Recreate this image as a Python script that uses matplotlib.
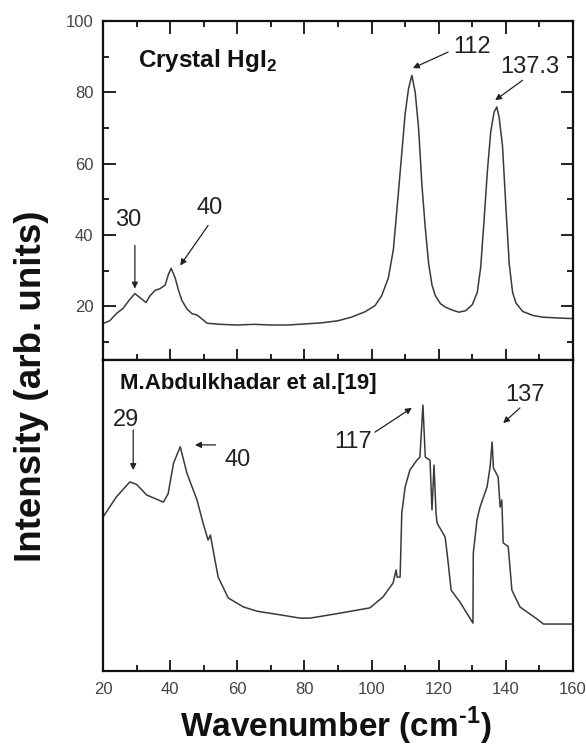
import matplotlib
matplotlib.use("Agg")
import matplotlib.pyplot as plt
from matplotlib.ticker import MultipleLocator, NullLocator

plt.rcParams['font.family'] = ['Liberation Sans', 'DejaVu Sans']
plt.rcParams['mathtext.fontset'] = 'custom'
plt.rcParams['mathtext.rm'] = 'Liberation Sans:bold'
plt.rcParams['mathtext.bf'] = 'Liberation Sans:bold'

# ---- data: Crystal HgI2 (top) ----
top_x = [20, 22, 24, 26, 28, 29.5, 31, 32.8, 34, 35.5, 37, 38.5, 39.5, 40.3, 41.5,
         42.5, 43.5, 45, 46.5, 48, 49.5, 51, 55, 60, 65, 70, 75, 80, 85, 90, 94, 98,
         101, 103, 105, 106.5, 108, 109, 110, 111, 112, 113, 114, 115, 116, 117, 118,
         119, 120.5, 122, 124, 126, 128, 130, 131.5, 132.5, 133.5, 134.5, 135.5, 136.5,
         137.3, 138, 139, 140, 141, 142, 143, 145, 148, 151, 155, 160]
top_y = [15.2, 16, 18, 19.5, 22, 23.6, 22.5, 21.1, 23, 24.5, 25, 26, 29, 30.7, 28,
         24.5, 21.7, 19.3, 18, 17.6, 16.5, 15.3, 15, 14.8, 15, 14.8, 14.8, 15.1, 15.4, 16, 17, 18.5,
         20.2, 23, 28, 36, 52, 63, 74, 81, 84.8, 80, 70, 54, 42, 32, 26,
         23, 20.8, 19.8, 19, 18.4, 18.8, 20.5, 24, 31, 44, 58, 69, 74.5,
         75.9, 73, 65, 48, 32, 24, 21, 18.6, 17.5, 17, 16.8, 16.6]

# ---- data: M. Abdulkhadar et al. (bottom, arb. units) ----
bot_x = [20, 24, 28, 30, 33, 38, 39.4, 41, 43, 45, 48, 49.8, 51.3, 52, 52.8, 54.3,
         57.3, 61.8, 66, 72, 78.7, 81.7, 90.6, 99.5, 103.4, 106.4, 107.3, 107.6, 108.5,
         109, 110, 111.4, 113.5, 114.4, 115.3, 116, 117.4, 118, 118.6, 119.2, 119.5,
         121.9, 122.5, 123.7, 126.3, 130.2, 130.3, 131.4, 132.3, 134.4, 135.3, 135.9,
         136.3, 137.7, 138.3, 138.8, 139.2, 140.7, 141.8, 144.2, 149.3, 151.2, 160]
bot_y = [49.5, 56, 60.8, 60, 56.6, 54.3, 57, 66.8, 72.1, 63.6, 55, 47.6, 42.1, 43.7, 38.9, 30.2,
         23.5, 20.6, 19.2, 18.2, 17, 17, 18.6, 20.3, 23.8, 28.3, 32.5, 30.2, 30.2,
         50.8, 59.2, 64.6, 67.8, 68.8, 85.5, 68.8, 67.8, 51.8, 66.2, 50.8, 47.6,
         43.1, 37.9, 26, 22.2, 15.4, 37.9, 48.6, 52.7, 59.2, 65.6, 73.6,
         65.3, 62.4, 52.7, 55, 41.2, 40, 26, 20.6, 16.7, 15.1, 15.1]

x_ticks = [20, 40, 60, 80, 100, 120, 140, 160]
top_yticks = [20, 40, 60, 80, 100]

W, H = 586, 751
fig = plt.figure(figsize=(W / 100, H / 100), dpi=100)

L, R = 103 / W, 573 / W
y_top, y_mid, y_bot = 1 - 21 / H, 1 - 360 / H, 1 - 671 / H

ax1 = fig.add_axes([L, y_mid, R - L, y_top - y_mid])
ax2 = fig.add_axes([L, y_bot, R - L, y_mid - y_bot])

line_c = '#3a3a3a'
ax1.plot(top_x, top_y, color=line_c, lw=1.1)
ax2.plot(bot_x, bot_y, color=line_c, lw=1.1)

for ax in (ax1, ax2):
    ax.set_xlim(20, 160)
    for s in ax.spines.values():
        s.set_linewidth(1.6)
        s.set_color('#111111')

ax1.set_ylim(5, 100)
ax2.set_ylim(0, 100)

tick_c = '#444444'
# top panel
ax1.set_xticks(x_ticks)
ax1.xaxis.set_minor_locator(MultipleLocator(10))
ax1.xaxis.set_ticks_position('top')
ax1.tick_params(axis='x', which='both', direction='in', top=True, bottom=False,
                labeltop=False, labelbottom=False, width=1.3, color='#111111')
ax1.tick_params(axis='x', which='major', length=9)
ax1.tick_params(axis='x', which='minor', length=4.5)
ax1.set_yticks(top_yticks)
ax1.yaxis.set_minor_locator(MultipleLocator(10))
ax1.tick_params(axis='y', which='both', direction='in', left=True, right=True,
                width=1.3, color='#111111', labelsize=12, labelcolor=tick_c, pad=7)
ax1.tick_params(axis='y', which='major', length=9)
ax1.tick_params(axis='y', which='minor', length=4.5)

sec = ax1.secondary_xaxis('bottom')
sec.set_xticks(x_ticks)
sec.xaxis.set_minor_locator(MultipleLocator(10))
sec.tick_params(axis='x', which='both', direction='inout', labelbottom=False,
                width=1.3, color='#111111')
sec.tick_params(axis='x', which='major', length=16)
sec.tick_params(axis='x', which='minor', length=8)
sec.spines['bottom'].set_visible(False)

# bottom panel
ax2.set_xticks(x_ticks)
ax2.xaxis.set_minor_locator(MultipleLocator(10))
ax2.tick_params(axis='x', which='both', direction='in', top=False, bottom=True,
                width=1.3, color='#111111', labelsize=12, labelcolor=tick_c, pad=8)
ax2.tick_params(axis='x', which='major', length=8)
ax2.tick_params(axis='x', which='minor', length=4)
ax2.yaxis.set_major_locator(NullLocator())
ax2.yaxis.set_minor_locator(NullLocator())

# annotations
arr = dict(arrowstyle='-|>', color='#222222', lw=0.9, mutation_scale=9, shrinkA=0, shrinkB=0)
fs_num = 17
ax1.text(30.4, 88.8, r'Crystal HgI$_\mathbf{2}$', fontsize=17.5, fontweight='bold',
         ha='left', va='center', color='#111111')
ax1.text(27.5, 44.1, '30', fontsize=fs_num, ha='center', va='center', color='#222222')
ax1.annotate('', xy=(29.5, 25), xytext=(29.5, 37.1), arrowprops=arr)
ax1.text(51.9, 47.5, '40', fontsize=fs_num, ha='center', va='center', color='#222222')
ax1.annotate('', xy=(43, 31.5), xytext=(51.3, 42.7), arrowprops=arr)
ax1.text(130, 92.7, '112', fontsize=fs_num, ha='center', va='center', color='#222222')
ax1.annotate('', xy=(112.3, 86.8), xytext=(122.8, 91.3), arrowprops=arr)
ax1.text(147.2, 87.1, '137.3', fontsize=fs_num, ha='center', va='center', color='#222222')
ax1.annotate('', xy=(136.8, 77.8), xytext=(145, 83.4), arrowprops=arr)

ax2.text(25, 92.6, 'M.Abdulkhadar et al.[19]', fontsize=16, fontweight='bold',
         ha='left', va='center', color='#111111')
ax2.text(27, 80.7, '29', fontsize=fs_num, ha='center', va='center', color='#222222')
ax2.annotate('', xy=(29, 64.6), xytext=(29, 77.5), arrowprops=arr)
ax2.text(60, 67.8, '40', fontsize=fs_num, ha='center', va='center', color='#222222')
ax2.annotate('', xy=(47.4, 72.7), xytext=(53.5, 72.7), arrowprops=arr)
ax2.text(94.5, 73.6, '117', fontsize=fs_num, ha='center', va='center', color='#222222')
ax2.annotate('', xy=(112, 84.6), xytext=(101, 76.8), arrowprops=arr)
ax2.text(145.7, 88.7, '137', fontsize=fs_num, ha='center', va='center', color='#222222')
ax2.annotate('', xy=(139.2, 79.7), xytext=(144.2, 84.6), arrowprops=arr)

fig.text(336 / W, 1 - 726 / H, r'Wavenumber (cm$^{\text{-1}}$)', fontsize=24,
         fontweight='bold', ha='center', va='center', color='#111111')
fig.text(32 / W, 1 - 386 / H, 'Intensity (arb. units)', fontsize=26.5, fontweight='bold',
         rotation=90, ha='center', va='center', color='#111111')

fig.savefig('out.png', dpi=100)
